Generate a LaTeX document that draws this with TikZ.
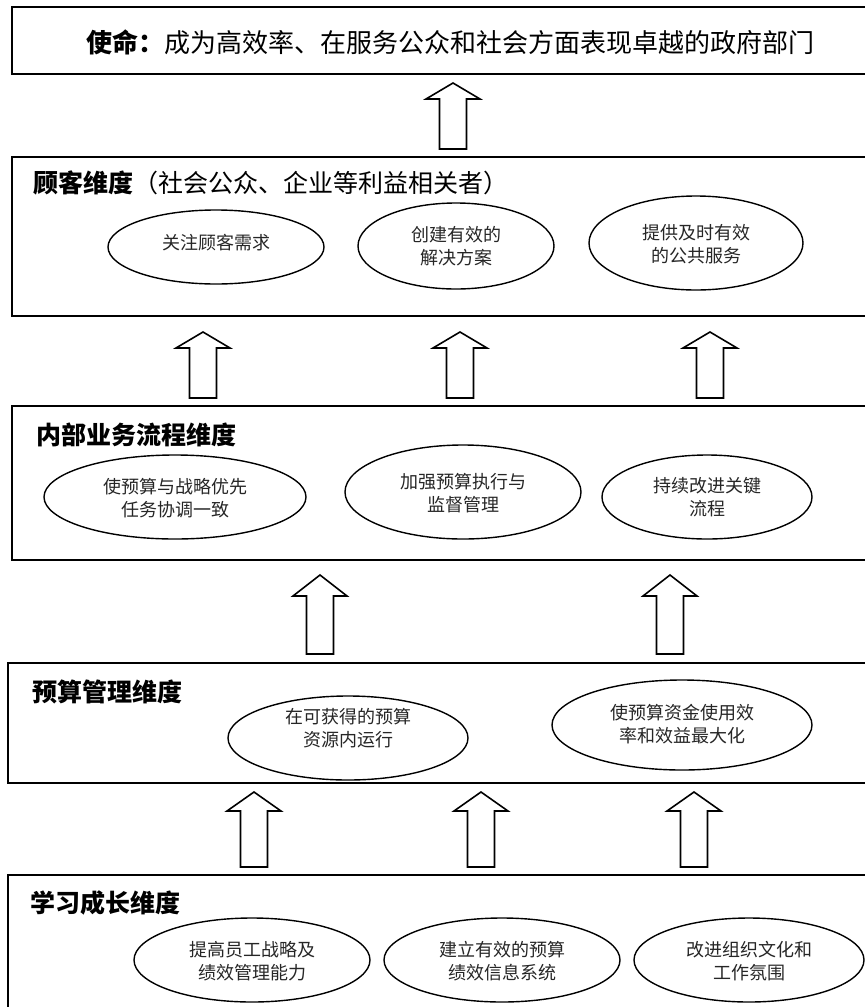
\documentclass[tikz,border=0pt]{standalone}
\usepackage{fontspec}
\newfontfamily\cjk{Noto Sans CJK SC}
\usetikzlibrary{shapes.geometric}
\tikzset{
  dimbox/.style={draw=black, line width=1.8pt},
  oval/.style={draw=black, line width=1.4pt, ellipse, inner sep=0pt},
  etext/.style={font={\cjk\fontsize{18}{23}\selectfont}, text=black!85, align=center, inner sep=0pt},
  ttext/.style={font={\cjk\fontsize{25}{30}\selectfont}, anchor=west, inner sep=0pt},
  mtext/.style={font={\cjk\fontsize{26}{30}\selectfont}, anchor=west, inner sep=0pt},
  arrowline/.style={draw=black, line width=1.6pt, fill=white, line join=miter},
}
\newcommand\blockarrow[4]{%
  \draw[arrowline] ({#1-13.5},#4) -- ({#1-13.5},#3) -- ({#1-27},#3) -- (#1,#2)
    -- ({#1+27},#3) -- ({#1+13.5},#3) -- ({#1+13.5},#4) -- cycle;}
\begin{document}
\begin{tikzpicture}[x=1pt,y=-1pt]
\useasboundingbox (0,0) rectangle (865,1007);
\clip (0,0) rectangle (865,1007);
\fill[white] (0,0) rectangle (865,1007);

% boxes
\draw[dimbox] (12,7) rectangle (875,74);
\draw[dimbox] (12,157) rectangle (875,316);
\draw[dimbox] (12,406) rectangle (875,560);
\draw[dimbox] (8,663) rectangle (875,783);
\draw[dimbox] (8,875) rectangle (875,1015);

% mission
\node[mtext] (mission) at (86,42) {{\bfseries 使命：}成为高效率、在服务公众和社会方面表现卓越的政府部门};

% customer
\node[ttext] (custT) at (33,183) {{\bfseries 顾客维度}（社会公众、企业等利益相关者）};
\node[oval, minimum width=216pt, minimum height=74pt] (c1) at (216,247) {};
\node[etext] (c1t) at (216,243) {关注顾客需求};
\node[oval, minimum width=196pt, minimum height=86pt] (c2) at (456,246) {};
\node[etext] (c2t) at (456,246) {创建有效的\\解决方案};
\node[oval, minimum width=214pt, minimum height=94pt] (c3) at (696,243) {};
\node[etext] (c3t) at (696,244) {提供及时有效\\的公共服务};

% internal
\node[ttext] (intT) at (36,435) {\bfseries 内部业务流程维度};
\node[oval, minimum width=262pt, minimum height=84pt] (i1) at (175,497) {};
\node[etext] (i1t) at (175,498) {使预算与战略优先\\任务协调一致};
\node[oval, minimum width=236pt, minimum height=94pt] (i2) at (463,492) {};
\node[etext] (i2t) at (463,493) {加强预算执行与\\监督管理};
\node[oval, minimum width=210pt, minimum height=84pt] (i3) at (707,497) {};
\node[etext] (i3t) at (707,497) {持续改进关键\\流程};

% budget
\node[ttext] (budT) at (32,692) {\bfseries 预算管理维度};
\node[oval, minimum width=240pt, minimum height=84pt] (b1) at (348,738) {};
\node[etext] (b1t) at (348,728) {在可获得的预算\\资源内运行};
\node[oval, minimum width=260pt, minimum height=90pt] (b2) at (682,725) {};
\node[etext] (b2t) at (682,724) {使预算资金使用效\\率和效益最大化};

% learning
\node[ttext] (lrnT) at (30,903) {\bfseries 学习成长维度};
\node[oval, minimum width=236pt, minimum height=84pt] (l1) at (252,960) {};
\node[etext] (l1t) at (252,961) {提高员工战略及\\绩效管理能力};
\node[oval, minimum width=236pt, minimum height=84pt] (l2) at (502,960) {};
\node[etext] (l2t) at (502,961) {建立有效的预算\\绩效信息系统};
\node[oval, minimum width=230pt, minimum height=84pt] (l3) at (749,960) {};
\node[etext] (l3t) at (749,961) {改进组织文化和\\工作氛围};

% block arrows
\blockarrow{453}{83}{99}{149}
\blockarrow{203}{332}{348}{398}
\blockarrow{460}{332}{348}{398}
\blockarrow{710}{332}{348}{398}
\blockarrow{320}{575}{596}{654}
\blockarrow{670}{575}{596}{654}
\blockarrow{254}{792}{811}{867}
\blockarrow{481}{792}{811}{867}
\blockarrow{694}{792}{811}{867}
\end{tikzpicture}
\end{document}
